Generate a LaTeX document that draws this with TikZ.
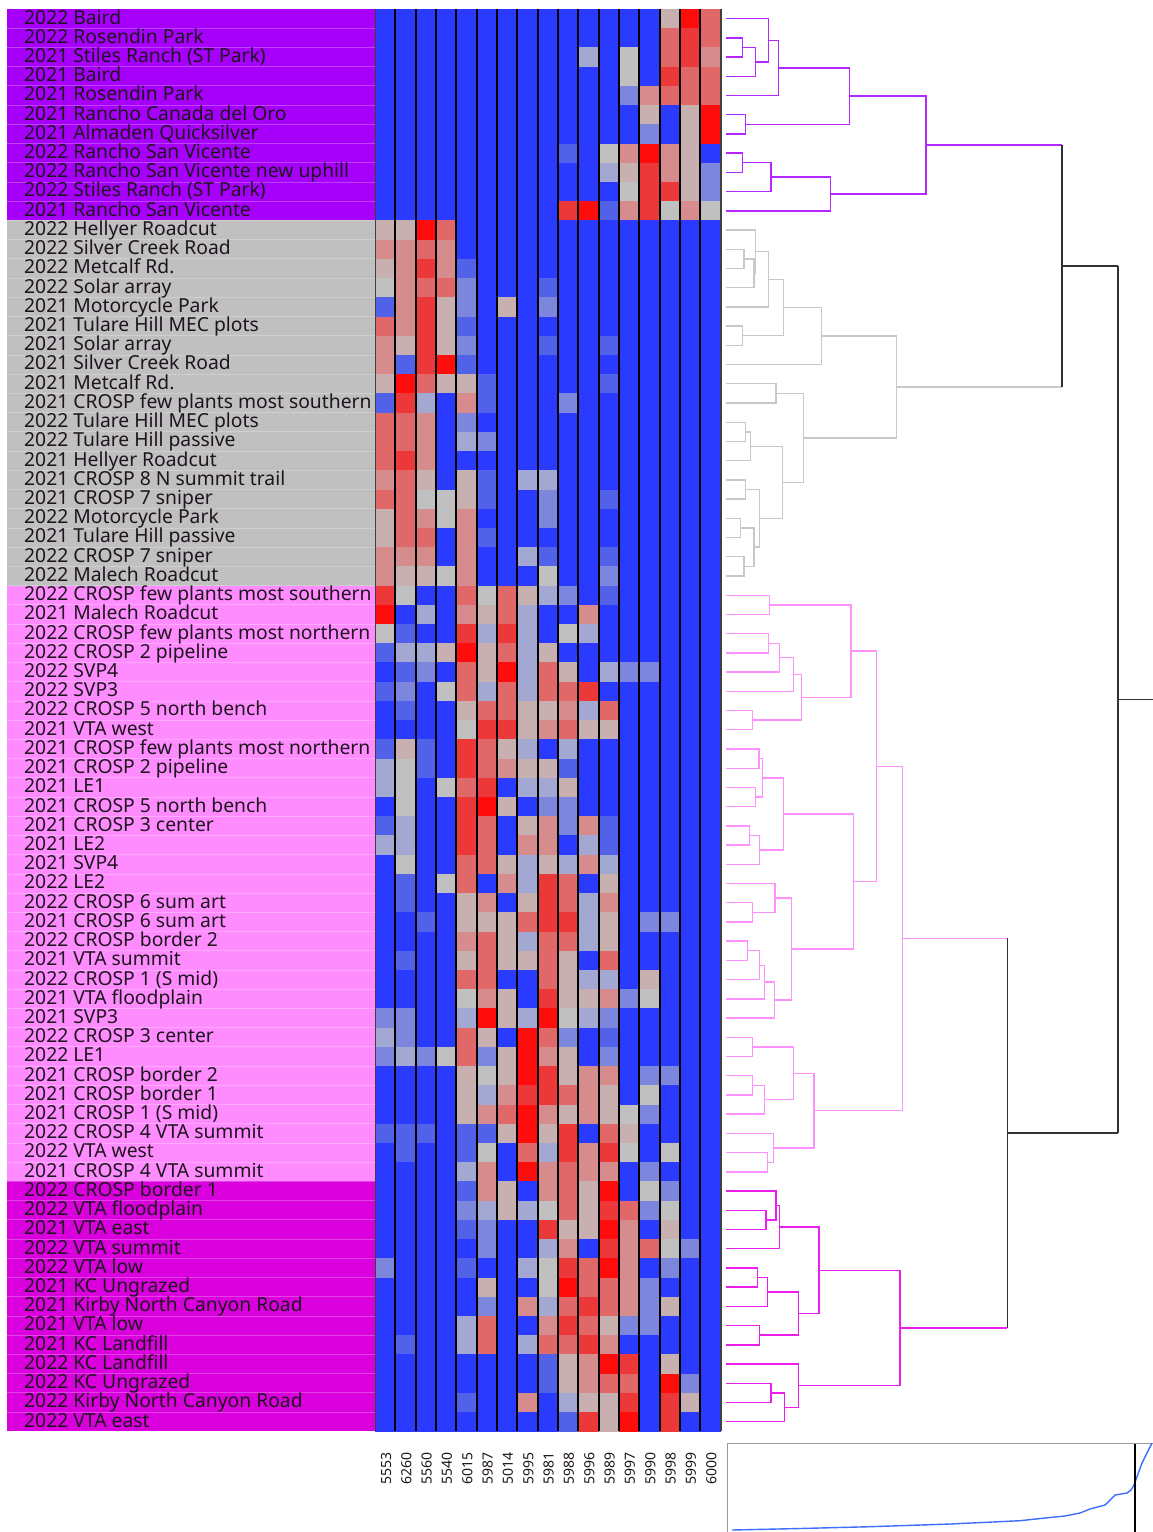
\documentclass[tikz,border=0pt]{standalone}
\usepackage{fontspec}
\setmainfont{Noto Sans}
\usetikzlibrary{calc}
\definecolor{cB}{RGB}{42,59,255}
\definecolor{cb}{RGB}{82,98,232}
\definecolor{cl}{RGB}{124,134,220}
\definecolor{cm}{RGB}{162,168,210}
\definecolor{cg}{RGB}{192,192,192}
\definecolor{cp}{RGB}{200,176,176}
\definecolor{cq}{RGB}{214,140,140}
\definecolor{cr}{RGB}{224,104,104}
\definecolor{cs}{RGB}{236,56,56}
\definecolor{cR}{RGB}{255,12,12}
\definecolor{bgpur}{RGB}{167,0,250}
\definecolor{bggry}{RGB}{192,192,192}
\definecolor{bgpnk}{RGB}{255,140,255}
\definecolor{bgmag}{RGB}{218,0,222}
\definecolor{lnpur}{RGB}{178,40,255}
\definecolor{lngry}{RGB}{200,200,200}
\definecolor{lnpnk}{RGB}{255,145,255}
\definecolor{lnmag}{RGB}{235,30,235}
\definecolor{lnblk}{RGB}{50,50,50}
\definecolor{labtext}{RGB}{30,20,30}
\definecolor{curve}{RGB}{60,110,255}
\tikzset{
  lab/.style={font=\fontsize{19.3pt}{20pt}\selectfont, text=labtext, inner sep=0pt, anchor=base west},
  collab/.style={font=\fontsize{14pt}{15pt}\selectfont, text=labtext, inner sep=0pt, rotate=90, anchor=east},
  dP/.style={draw=lnpur, line width=1.4pt},
  dG/.style={draw=lngry, line width=1.4pt},
  dK/.style={draw=lnpnk, line width=1.4pt},
  dM/.style={draw=lnmag, line width=1.4pt},
  dB/.style={draw=lnblk, line width=1.6pt},
  colsep/.style={draw=black, line width=2.2pt},
  rowsep/.style={draw=white, opacity=0.25, line width=0.8pt}
}
% regular merge: style, name, x, child1, child2
\newcommand\dmg[5]{%
  \coordinate (dmX) at (#3,0);
  \coordinate (dmT) at ($(#4)!0.5!(#5)$);
  \coordinate (#2) at (dmT -| dmX);
  \draw[#1] (#4) -- (#4 -| dmX) -- (#5 -| dmX) -- (#5);
}
% black merge: name, x, child1, style1, child2, style2
\newcommand\dmb[6]{%
  \coordinate (dmX) at (#2,0);
  \coordinate (dmT) at ($(#3)!0.5!(#5)$);
  \coordinate (#1) at (dmT -| dmX);
  \draw[#4] (#3) -- (#3 -| dmX);
  \draw[#6] (#5) -- (#5 -| dmX);
  \draw[dB] (#3 -| dmX) -- (#5 -| dmX);
}
\begin{document}
\begin{tikzpicture}[x=1pt,y=-1pt]
\useasboundingbox (0,0) rectangle (1153,1532);
\fill[white] (0,0) rectangle (1153,1532);
% label backgrounds
\fill[bgpur] (7,9) rectangle (375,220.42);
\fill[bggry] (7,220.42) rectangle (375,585.6);
\fill[bgpnk] (7,585.6) rectangle (375,1181.42);
\fill[bgmag] (7,1181.42) rectangle (375,1431.3);
\foreach \k in {1,...,73} \draw[rowsep] (7,{9+19.22*\k}) -- (375,{9+19.22*\k});
% labels
\foreach \t [count=\i from 0] in {
{2022 Baird},{2022 Rosendin Park},{2021 Stiles Ranch (ST Park)},{2021 Baird},{2021 Rosendin Park},
{2021 Rancho Canada del Oro},{2021 Almaden Quicksilver},{2022 Rancho San Vicente},
{2022 Rancho San Vicente new uphill},{2022 Stiles Ranch (ST Park)},{2021 Rancho San Vicente},
{2022 Hellyer Roadcut},{2022 Silver Creek Road},{2022 Metcalf Rd.},{2022 Solar array},
{2021 Motorcycle Park},{2021 Tulare Hill MEC plots},{2021 Solar array},{2021 Silver Creek Road},
{2021 Metcalf Rd.},{2021 CROSP few plants most southern},{2022 Tulare Hill MEC plots},
{2022 Tulare Hill passive},{2021 Hellyer Roadcut},{2021 CROSP 8 N summit trail},
{2021 CROSP 7 sniper},{2022 Motorcycle Park},{2021 Tulare Hill passive},{2022 CROSP 7 sniper},
{2022 Malech Roadcut},{2022 CROSP few plants most southern},{2021 Malech Roadcut},
{2022 CROSP few plants most northern},{2022 CROSP 2 pipeline},{2022 SVP4},{2022 SVP3},
{2022 CROSP 5 north bench},{2021 VTA west},{2021 CROSP few plants most northern},
{2021 CROSP 2 pipeline},{2021 LE1},{2021 CROSP 5 north bench},{2021 CROSP 3 center},
{2021 LE2},{2021 SVP4},{2022 LE2},{2022 CROSP 6 sum art},{2021 CROSP 6 sum art},
{2022 CROSP border 2},{2021 VTA summit},{2022 CROSP 1 (S mid)},{2021 VTA floodplain},
{2021 SVP3},{2022 CROSP 3 center},{2022 LE1},{2021 CROSP border 2},{2021 CROSP border 1},
{2021 CROSP 1 (S mid)},{2022 CROSP 4 VTA summit},{2022 VTA west},{2021 CROSP 4 VTA summit},
{2022 CROSP border 1},{2022 VTA floodplain},{2021 VTA east},{2022 VTA summit},{2022 VTA low},
{2021 KC Ungrazed},{2021 Kirby North Canyon Road},{2021 VTA low},{2021 KC Landfill},
{2022 KC Landfill},{2022 KC Ungrazed},{2022 Kirby North Canyon Road},{2022 VTA east}}
{\node[lab] (t\i) at (24,{9+19.22*\i+15}) {\t};}
% heatmap
\foreach \rw [count=\i from 0] in {
{B,B,B,B,B,B,B,B,B,B,B,B,B,B,p,R,r},
{B,B,B,B,B,B,B,B,B,B,B,B,B,B,r,s,r},
{B,B,B,B,B,B,B,B,B,B,m,B,g,B,r,s,q},
{B,B,B,B,B,B,B,B,B,B,B,B,g,B,s,r,r},
{B,B,B,B,B,B,B,B,B,B,B,B,l,q,r,r,r},
{B,B,B,B,B,B,B,B,B,B,B,B,B,p,B,p,R},
{B,B,B,B,B,B,B,B,B,B,B,B,B,l,B,p,R},
{B,B,B,B,B,B,B,B,B,b,B,g,q,R,q,p,B},
{B,B,B,B,B,B,B,B,B,B,B,m,p,s,q,p,l},
{B,B,B,B,B,B,B,B,B,B,B,B,g,s,s,p,l},
{B,B,B,B,B,B,B,B,B,s,R,b,q,s,g,q,g},
{p,p,R,r,B,B,B,B,B,B,B,B,B,B,B,B,B},
{q,q,r,q,B,B,B,B,B,B,B,B,B,B,B,B,B},
{p,q,s,q,b,B,B,B,B,B,B,B,B,B,B,B,B},
{g,q,r,r,l,B,B,B,b,B,B,B,B,B,B,B,B},
{b,q,s,p,l,B,p,B,l,B,B,B,B,B,B,B,B},
{r,q,s,p,b,B,B,B,B,B,B,B,B,B,B,B,B},
{q,p,s,p,l,B,B,B,b,B,B,b,B,B,B,B,B},
{q,b,s,R,b,B,B,B,B,B,B,B,B,B,B,B,B},
{p,R,r,p,p,b,B,B,B,B,B,b,B,B,B,B,B},
{b,s,m,B,q,b,B,B,B,l,B,B,B,B,B,B,B},
{r,r,q,B,l,B,B,B,B,B,B,B,B,B,B,B,B},
{r,r,q,B,m,l,B,B,B,B,B,B,B,B,B,B,B},
{r,s,q,B,B,B,B,B,B,B,B,B,B,B,B,B,B},
{q,r,p,B,p,b,B,m,m,B,B,B,B,B,B,B,B},
{r,r,g,g,p,b,B,B,l,B,B,b,B,B,B,B,B},
{p,r,q,g,q,B,B,B,l,B,B,B,B,B,B,B,B},
{p,r,r,B,q,b,B,B,B,B,B,B,B,B,B,B,B},
{q,q,q,B,q,B,B,m,b,B,B,b,B,B,B,B,B},
{q,p,p,g,q,B,B,B,g,B,B,l,B,B,B,B,B},
{s,g,B,B,r,g,r,p,m,l,B,b,B,B,B,B,B},
{R,B,m,B,q,p,r,m,B,B,q,B,B,B,B,B,B},
{g,b,B,B,s,m,s,m,B,g,m,B,B,B,B,B,B},
{b,m,m,p,R,p,r,m,p,B,B,B,B,B,B,B,B},
{B,b,l,B,r,p,R,m,r,p,B,m,l,l,B,B,B},
{b,l,B,g,r,m,r,m,r,r,s,B,B,B,B,B,B},
{B,b,B,B,p,r,r,p,p,q,m,r,B,B,B,B,B},
{B,B,B,B,g,s,s,p,q,r,p,p,B,B,B,B,B},
{b,p,b,B,s,r,p,m,B,m,B,B,B,B,B,B,B},
{m,g,b,B,s,r,q,p,p,b,B,B,B,B,B,B,B},
{m,g,B,g,r,s,B,m,m,p,B,B,B,B,B,B,B},
{B,g,B,B,s,R,p,B,l,l,B,B,B,B,B,B,B},
{b,m,B,B,s,r,B,p,q,l,q,b,B,B,B,B,B},
{m,m,B,B,s,r,B,q,q,B,m,b,B,B,B,B,B},
{B,g,B,B,r,r,p,m,p,m,q,m,B,B,B,B,B},
{B,b,B,g,r,B,q,m,s,r,B,p,B,B,B,B,B},
{B,b,B,B,p,q,B,p,s,r,m,q,B,B,B,B,B},
{B,B,b,B,p,p,p,r,s,s,m,p,B,l,l,B,B},
{B,B,B,B,q,r,p,m,r,r,m,p,B,B,B,B,B},
{B,b,B,B,p,r,p,p,r,p,B,r,B,B,B,B,B},
{B,B,B,B,r,r,B,B,r,p,m,m,B,p,B,B,B},
{B,B,B,B,g,q,p,B,s,p,p,q,l,g,B,B,B},
{l,l,B,B,m,R,p,m,R,g,m,l,B,B,B,B,B},
{m,l,B,B,r,p,B,R,r,l,B,b,B,B,B,B,B},
{l,m,l,g,r,l,p,R,q,p,B,l,B,B,B,B,B},
{B,B,B,B,p,g,p,R,s,p,q,q,B,l,l,B,B},
{B,B,B,B,p,m,q,s,s,r,q,p,B,g,B,B,B},
{B,B,B,B,p,q,r,R,q,p,q,p,g,l,B,B,B},
{b,b,b,B,b,b,p,R,p,s,B,r,p,B,B,B,B},
{B,b,B,B,b,g,B,r,m,s,q,s,g,B,g,B,B},
{B,B,B,B,m,q,B,R,q,r,q,q,B,l,B,B,B},
{B,B,B,B,b,q,p,B,q,r,p,R,B,g,l,B,B},
{B,B,B,B,l,m,p,m,g,r,p,s,r,l,g,B,B},
{B,B,B,B,b,l,B,B,s,p,p,R,q,B,p,B,B},
{B,B,B,B,B,l,B,B,m,q,B,s,q,r,g,l,B},
{l,B,B,B,b,B,B,m,g,s,r,R,q,B,l,B,B},
{B,B,B,B,B,p,B,B,g,R,r,r,q,l,B,B,B},
{B,B,B,B,B,l,B,q,m,r,s,r,q,l,p,B,B},
{B,B,B,B,m,r,B,B,q,s,r,p,l,l,B,B,B},
{B,b,B,B,m,r,B,m,r,r,s,q,B,B,B,B,B},
{B,B,B,B,B,B,B,B,b,p,q,R,s,B,p,B,B},
{B,B,B,B,B,B,B,B,b,p,q,r,r,B,R,l,B},
{B,B,B,B,b,B,B,q,B,m,p,p,s,B,s,p,B},
{B,B,B,B,B,B,B,B,B,b,s,p,R,B,s,B,B}}
{\foreach \c [count=\j from 0] in \rw
  {\fill[fill=c\c] ({375+20.33*\j},{9+19.22*\i}) rectangle ++(20.6,19.5);}}
\foreach \k in {1,...,16} \draw[colsep] ({375+20.33*\k},9) -- ({375+20.33*\k},1431.3);
\draw[draw=black!75, line width=1pt] (375.5,9) -- (375.5,1431.3);
\draw[draw=black!75, line width=1.5pt] (721,9) -- (721,1431.3);
% column labels
\foreach \n [count=\j from 0] in {5553,6260,5560,5540,6015,5987,5014,5995,5981,5988,5996,5989,5997,5990,5998,5999,6000}
  \node[collab] (c\j) at ({375+20.33*\j+11},1452) {\n};
% dendrogram leaves
\foreach \i in {0,...,73} \coordinate (L\i) at (726,{18.61+19.22*\i});
% purple cluster
\dmg{dP}{p1}{742.3}{L1}{L2}
\dmg{dP}{p2}{755.7}{p1}{L3}
\dmg{dP}{p3}{768.3}{L0}{p2}
\dmg{dP}{p4}{778.3}{p3}{L4}
\dmg{dP}{p5}{745.7}{L5}{L6}
\dmg{dP}{p6}{849.3}{p4}{p5}
\dmg{dP}{p7}{742.3}{L7}{L8}
\dmg{dP}{p8}{771}{p7}{L9}
\dmg{dP}{p9}{830.7}{p8}{L10}
\dmg{dP}{pR}{926}{p6}{p9}
% gray cluster
\dmg{dG}{g1}{744}{L12}{L13}
\dmg{dG}{g2}{754}{g1}{L14}
\dmg{dG}{g3}{755.7}{L11}{g2}
\dmg{dG}{g4}{768.3}{g3}{L15}
\dmg{dG}{g5}{742.3}{L16}{L17}
\dmg{dG}{g6}{783.3}{g4}{g5}
\dmg{dG}{g7}{821.7}{g6}{L18}
\dmg{dG}{g8}{776}{L19}{L20}
\dmg{dG}{g9}{745.7}{L21}{L22}
\dmg{dG}{g10}{750.7}{g9}{L23}
\dmg{dG}{g11}{745.7}{L24}{L25}
\dmg{dG}{g12}{740.7}{L26}{L27}
\dmg{dG}{g13}{744}{L28}{L29}
\dmg{dG}{g14}{754}{g12}{g13}
\dmg{dG}{g15}{759.3}{g11}{g14}
\dmg{dG}{g16}{782.7}{g10}{g15}
\dmg{dG}{g17}{803.3}{g8}{g16}
\dmg{dG}{gR}{896.7}{g7}{g17}
% pink cluster
\dmg{dK}{k1}{769.3}{L30}{L31}
\dmg{dK}{k2}{768.3}{L32}{L33}
\dmg{dK}{k3}{779.3}{k2}{L34}
\dmg{dK}{k4}{793.3}{k3}{L35}
\dmg{dK}{k5}{752.3}{L36}{L37}
\dmg{dK}{k6}{801.7}{k4}{k5}
\dmg{dK}{k7}{851}{k1}{k6}
\dmg{dK}{k8}{759}{L38}{L39}
\dmg{dK}{k9}{755.7}{L40}{L41}
\dmg{dK}{k10}{762.7}{k8}{k9}
\dmg{dK}{k11}{749.3}{L42}{L43}
\dmg{dK}{k12}{759.3}{k11}{L44}
\dmg{dK}{k13}{783.3}{k10}{k12}
\dmg{dK}{k14}{752.3}{L46}{L47}
\dmg{dK}{k15}{775}{L45}{k14}
\dmg{dK}{k16}{747.3}{L48}{L49}
\dmg{dK}{k17}{759.3}{k16}{L50}
\dmg{dK}{k18}{764.3}{k17}{L51}
\dmg{dK}{k19}{774.3}{k18}{L52}
\dmg{dK}{k20}{791.7}{k15}{k19}
\dmg{dK}{k21}{853.3}{k13}{k20}
\dmg{dK}{k22}{876.7}{k7}{k21}
\dmg{dK}{k23}{752.3}{L53}{L54}
\dmg{dK}{k24}{752.3}{L55}{L56}
\dmg{dK}{k25}{764.3}{k24}{L57}
\dmg{dK}{k26}{793.3}{k23}{k25}
\dmg{dK}{k27}{767.7}{L59}{L60}
\dmg{dK}{k28}{773.3}{L58}{k27}
\dmg{dK}{k29}{814}{k26}{k28}
\dmg{dK}{kR}{902.3}{k22}{k29}
% magenta cluster
\dmg{dM}{n1}{766}{L62}{L63}
\dmg{dM}{n2}{776}{L61}{n1}
\dmg{dM}{n3}{779.3}{n2}{L64}
\dmg{dM}{n4}{757.3}{L65}{L66}
\dmg{dM}{n5}{767.7}{n4}{L67}
\dmg{dM}{n6}{759.3}{L68}{L69}
\dmg{dM}{n7}{798.3}{n5}{n6}
\dmg{dM}{n8}{819}{n3}{n7}
\dmg{dM}{n9}{771}{L71}{L72}
\dmg{dM}{n10}{784.3}{n9}{L73}
\dmg{dM}{n11}{798.3}{L70}{n10}
\dmg{dM}{nR}{900}{n8}{n11}
% black top links
\dmb{b1}{1061.7}{pR}{dP}{gR}{dG}
\dmb{b2}{1007.3}{kR}{dK}{nR}{dM}
\dmb{b3}{1117.7}{b1}{dB}{b2}{dB}
\coordinate (edge) at (1153,0);
\draw[dB] (b3) -- (b3 -| edge);
% small plot
\draw[draw=black!40, line width=1pt] (727,1443.5) rectangle (1160,1540);
\draw[draw=curve, line width=1.4pt] (732,1530) -- (800,1528.5) -- (870,1526.7) -- (950,1524) -- (1020,1520.7) -- (1045,1518) -- (1065,1516) -- (1080,1513) -- (1090,1509) -- (1105,1505) -- (1110,1500) -- (1115,1495) -- (1127,1493) -- (1131,1490) -- (1134,1485) -- (1142,1463) -- (1152,1443);
\draw[draw=black, line width=1.2pt] (1135,1443.5) -- (1135,1532);
\end{tikzpicture}
\end{document}
